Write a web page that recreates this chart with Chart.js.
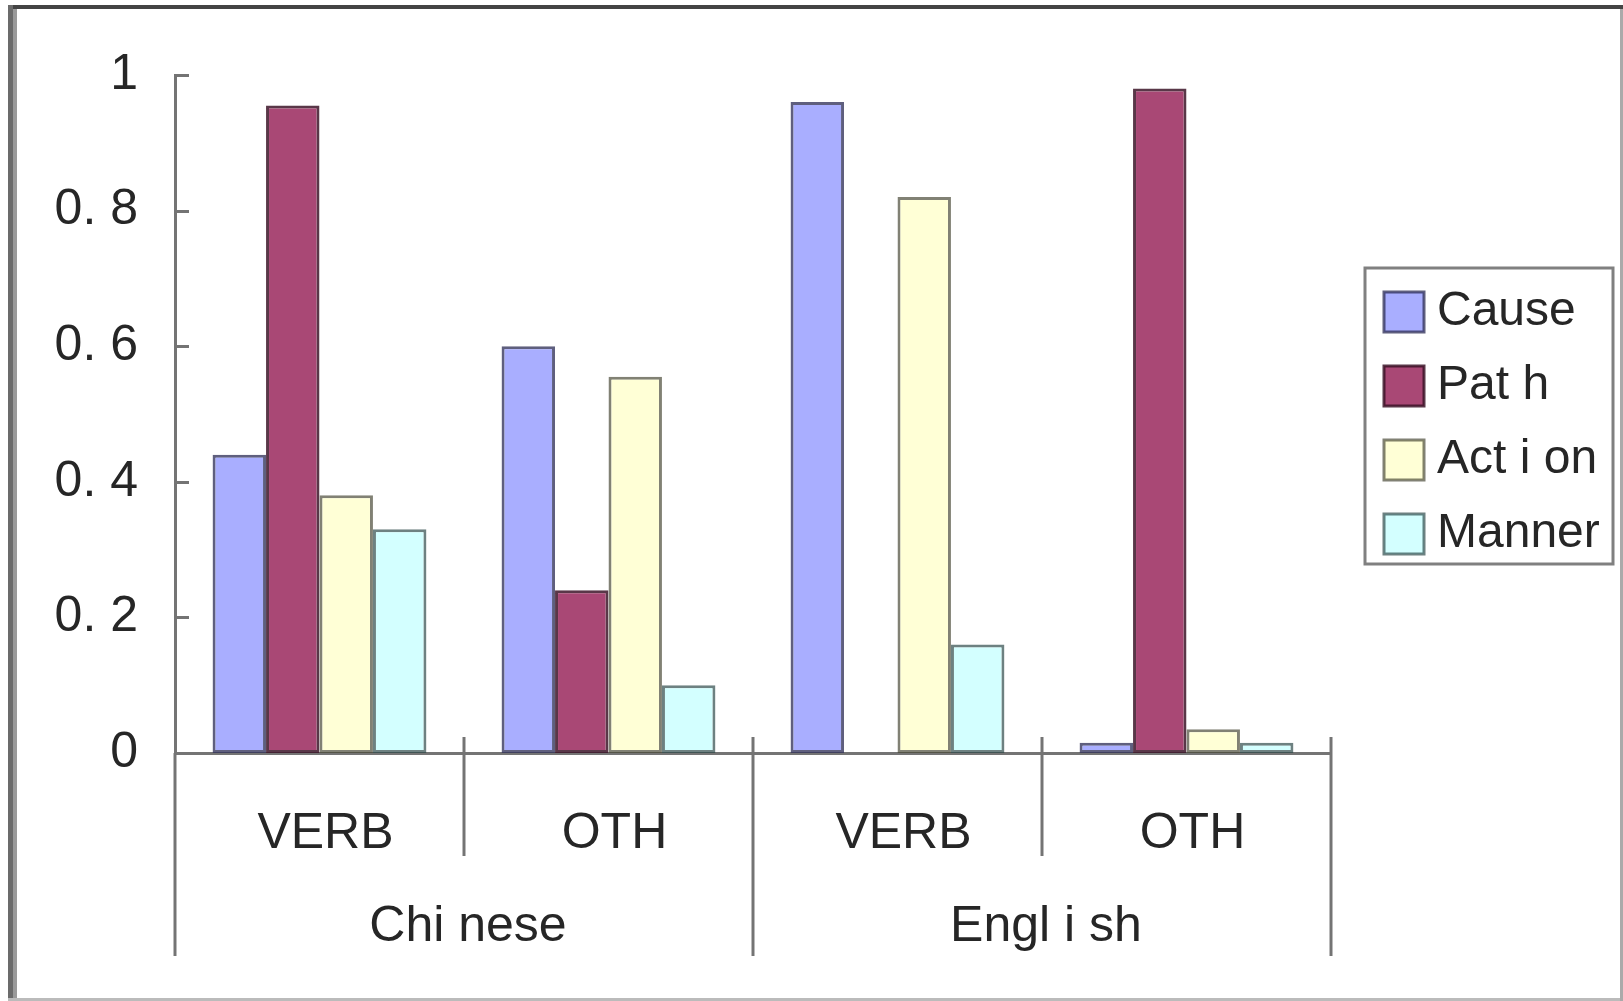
<!DOCTYPE html>
<html>
<head>
<meta charset="utf-8">
<script src="https://cdn.jsdelivr.net/npm/chart.js@4/dist/chart.umd.min.js"></script>
<style>
  html, body { margin: 0; padding: 0; background: #ffffff; }
  #wrap { width: 1623px; height: 1001px; position: relative; }
  canvas { display: block; }
</style>
</head>
<body>
<div id="wrap"><canvas id="chart" width="1623" height="1001"></canvas></div>
<script>
// Categories on the x axis and the language groups they belong to
const categories = ['VERB', 'OTH', 'VERB', 'OTH'];
const groups = ['Chi nese', 'Engl i sh'];
const groupSizes = [2, 2];

// Series names and their values per category
const seriesNames = ['Cause', 'Pat h', 'Act i on', 'Manner'];
const causeValues  = [0.44, 0.60, 0.96, 0.015];
const pathValues   = [0.955, 0.24, 0, 0.98];
const actionValues = [0.38, 0.555, 0.82, 0.035];
const mannerValues = [0.33, 0.10, 0.16, 0.015];

// Value axis ticks and how they are printed
const yTicks = [0, 0.2, 0.4, 0.6, 0.8, 1];
const yTickLabels = ['0', '0. 2', '0. 4', '0. 6', '0. 8', '1'];

const FONT = "'Liberation Sans', Arial, sans-serif";
const TEXT = '#262626';
const AXIS = '#747474';

const fills   = ['#a9aeff', '#a94875', '#ffffd6', '#d3ffff'];
const borders = ['rgba(50,50,90,0.78)', 'rgba(60,20,40,0.85)', 'rgba(70,70,50,0.68)', 'rgba(40,70,70,0.68)'];

const seriesValues = [causeValues, pathValues, actionValues, mannerValues];

// Frame around the whole picture
const framePlugin = {
  id: 'frame',
  beforeDraw(chart) {
    const ctx = chart.ctx;
    ctx.save();
    ctx.fillStyle = '#ffffff';
    ctx.fillRect(0, 0, chart.width, chart.height);
    ctx.fillStyle = '#444444';
    ctx.fillRect(8, 5, 1615, 4);
    ctx.fillStyle = '#6b6b6b';
    ctx.fillRect(8, 5, 5, 996);
    ctx.fillStyle = '#9a9a9a';
    ctx.fillRect(13, 9, 4, 992);
    ctx.fillStyle = '#bbbbbb';
    ctx.fillRect(8, 998, 1615, 3);
    ctx.fillStyle = '#aaaaaa';
    ctx.fillRect(1620, 9, 3, 992);
    ctx.restore();
  }
};

// Inside tick marks, category separators, group labels and the boxed legend
const decorPlugin = {
  id: 'decor',
  afterDraw(chart) {
    const ctx = chart.ctx;
    const x = chart.scales.x;
    const y = chart.scales.y;
    const area = chart.chartArea;
    const half = (x.getPixelForValue(1) - x.getPixelForValue(0)) / 2;

    ctx.save();
    ctx.strokeStyle = AXIS;
    ctx.lineWidth = 3;
    ctx.lineCap = 'butt';

    // inside ticks on the value axis
    y.ticks.forEach(t => {
      const py = Math.round(y.getPixelForValue(t.value)) + 0.5;
      ctx.beginPath();
      ctx.moveTo(area.left, py);
      ctx.lineTo(area.left + 14, py);
      ctx.stroke();
    });

    // separators between categories; group boundaries run longer
    const groupEdges = [0];
    groupSizes.reduce((acc, n) => { groupEdges.push(acc + n); return acc + n; }, 0);
    for (let i = 0; i <= categories.length; i++) {
      const px = Math.round(x.getPixelForValue(i) - half);
      const isGroupEdge = groupEdges.includes(i);
      const top = i === 0 ? area.bottom : area.bottom - 16;
      const bottom = isGroupEdge ? 956 : 856;
      ctx.beginPath();
      ctx.moveTo(px, top);
      ctx.lineTo(px, bottom);
      ctx.stroke();
    }

    // group labels centred under their categories
    ctx.fillStyle = TEXT;
    ctx.font = `50px ${FONT}`;
    ctx.textAlign = 'center';
    ctx.textBaseline = 'middle';
    let start = 0;
    groups.forEach((g, gi) => {
      const first = x.getPixelForValue(start) - half;
      const last = x.getPixelForValue(start + groupSizes[gi] - 1) + half;
      ctx.fillText(g, (first + last) / 2 + 4, 927);
      start += groupSizes[gi];
    });

    // legend box
    const lx = 1365, ly = 268, lw = 248, lh = 296;
    ctx.strokeStyle = '#808080';
    ctx.lineWidth = 3;
    ctx.strokeRect(lx, ly, lw, lh);
    ctx.textAlign = 'left';
    ctx.font = `48px ${FONT}`;
    chart.data.datasets.forEach((ds, i) => {
      const cy = 312 + i * 74;
      ctx.fillStyle = ds.backgroundColor;
      ctx.fillRect(1384, cy - 20, 40, 40);
      ctx.strokeStyle = ds.borderColor;
      ctx.lineWidth = 3;
      ctx.strokeRect(1384, cy - 20, 40, 40);
      ctx.fillStyle = TEXT;
      ctx.fillText(ds.label, 1437, cy);
    });
    ctx.restore();
  }
};

new Chart(document.getElementById('chart'), {
  type: 'bar',
  data: {
    labels: categories,
    datasets: seriesNames.map((name, i) => ({
      label: name,
      data: seriesValues[i],
      backgroundColor: fills[i],
      borderColor: borders[i],
      borderWidth: 3,
      borderSkipped: false,
      categoryPercentage: 0.74,
      barPercentage: 1.0
    }))
  },
  options: {
    responsive: false,
    animation: false,
    events: [],
    layout: { padding: { left: 10, right: 292, top: 75, bottom: 0 } },
    plugins: {
      legend: { display: false },
      tooltip: { enabled: false },
      title: { display: false }
    },
    scales: {
      x: {
        type: 'category',
        offset: true,
        grid: { display: false },
        border: { display: true, color: AXIS, width: 3 },
        ticks: { font: { family: FONT, size: 50 }, color: TEXT, padding: 43, labelOffset: 6, maxRotation: 0, autoSkip: false },
        afterFit(scale) { scale.height = 248; }
      },
      y: {
        min: 0,
        max: 1,
        afterBuildTicks(scale) { scale.ticks = yTicks.map(v => ({ value: v })); },
        grid: { display: false },
        border: { display: true, color: AXIS, width: 3 },
        ticks: {
          font: { family: FONT, size: 50 },
          color: TEXT,
          padding: 29,
          callback: (v, idx) => yTickLabels[idx]
        },
        afterFit(scale) { scale.width = 165; }
      }
    }
  },
  plugins: [framePlugin, decorPlugin]
});
</script>
</body>
</html>
